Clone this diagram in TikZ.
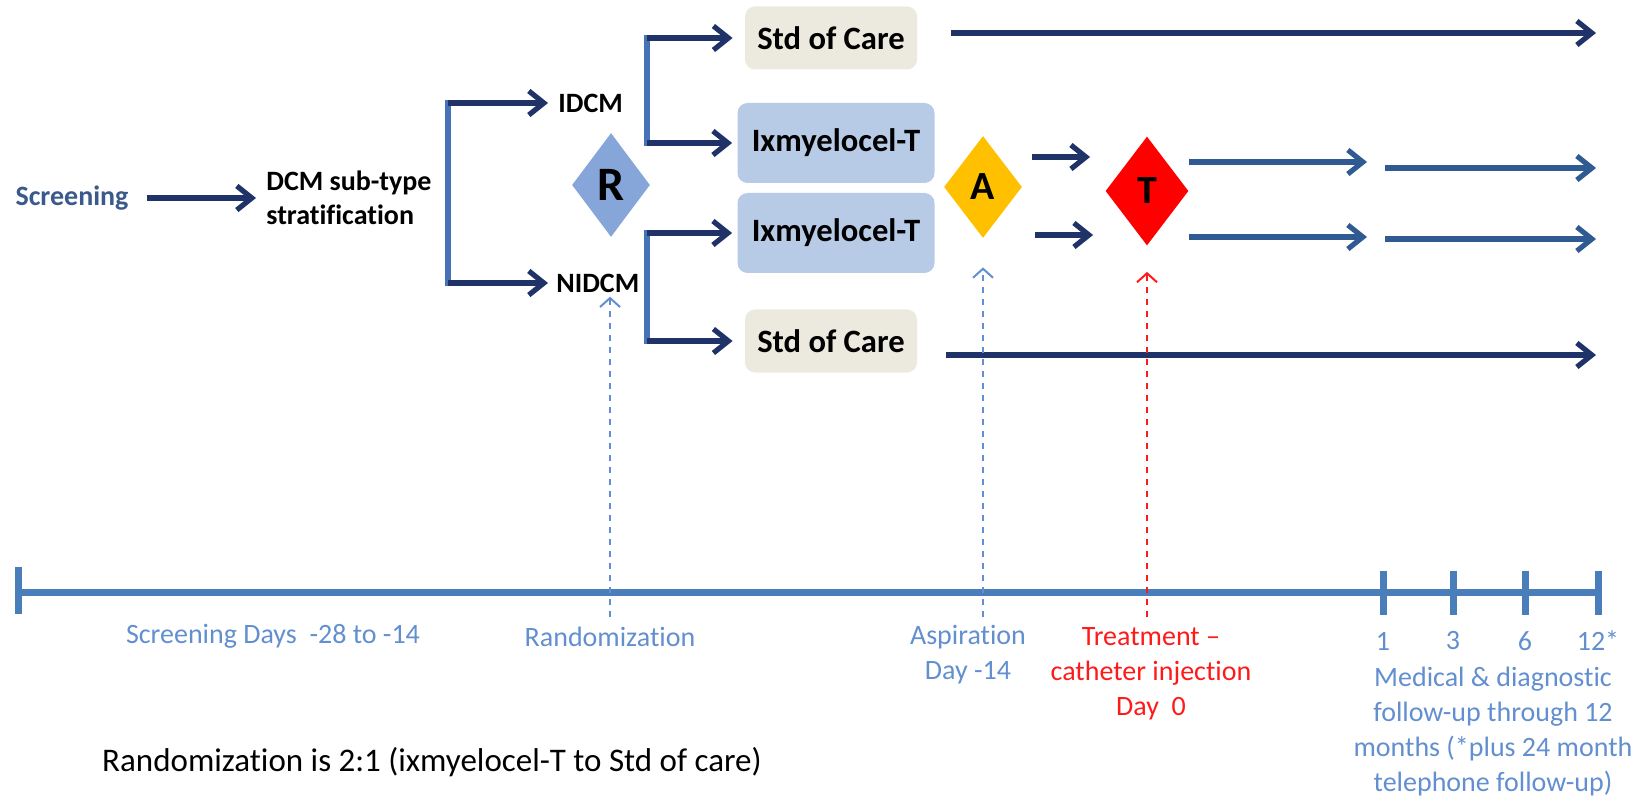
\documentclass[tikz,border=0pt]{standalone}
\usepackage{fontspec}
\setmainfont{Carlito}[Ligatures={NoCommon,NoRequired,NoContextual},RawFeature={-liga;-clig;-calt}]
\usetikzlibrary{arrows.meta,shapes.geometric}
\definecolor{navy}{HTML}{1F3368}
\definecolor{steel}{HTML}{2F5A92}
\definecolor{forkblue}{HTML}{4673B8}
\definecolor{tlblue}{HTML}{4A7EBB}
\definecolor{lblue}{HTML}{628FCF}
\definecolor{scrtext}{HTML}{3A5A8C}
\definecolor{tred}{HTML}{FF1A1A}
\definecolor{rfill}{HTML}{86A5D8}
\definecolor{ixfill}{HTML}{B7CAE6}
\definecolor{stdfill}{HTML}{ECEADF}
\definecolor{afill}{HTML}{FFC000}
\definecolor{tfill}{HTML}{FF0000}
\tikzstyle{toplabel}=[
        inner sep=0pt,
        font=\fontsize{14}{17}\selectfont\bfseries
]
\tikzstyle{armbox}=[
        rounded corners=5pt,
        inner sep=0pt,
        font=\fontsize{16.3}{19}\selectfont\bfseries
]
\tikzstyle{stdbox}=[armbox, fill=stdfill, minimum width=86pt, minimum height=31.5pt]
\tikzstyle{ixbox}=[armbox, fill=ixfill, minimum width=98.5pt, minimum height=40pt]
\tikzstyle{choice}=[diamond, inner sep=0pt]
\tikzstyle{flowarrow}=[
        draw=navy,
        line width=2.6pt,
        -{Straight Barb[length=7.5pt,width=12pt]}
]
\tikzstyle{steelarrow}=[flowarrow, draw=steel]
\tikzstyle{forkline}=[draw=forkblue, line width=2.6pt, line cap=rect]
\tikzstyle{timeaxis}=[draw=tlblue, line width=3.5pt]
\tikzstyle{dashptr}=[
        dashed,
        line width=1pt,
        -{Straight Barb[length=4.5pt,width=10pt]}
]
\tikzstyle{tllabel}=[
        inner sep=0pt,
        text=lblue,
        align=center,
        font=\fontsize{14}{17.5}\selectfont
]
\begin{document}
\begin{tikzpicture}[x=0.5pt,y=-0.5pt]
    \useasboundingbox (0,0) rectangle (1644,802);

    % flow chart
    \node[toplabel, text=scrtext] (screen) at (72,198) {Screening};
    \node[toplabel, align=left, anchor=west] (dcm) at (266,198) {DCM sub-type\\stratification};
    \node[toplabel, anchor=west] (idcm) at (558,103) {IDCM};
    \node[toplabel, anchor=west] (nidcm) at (556,283) {NIDCM};
    \node[choice, fill=rfill, minimum width=39pt, minimum height=52pt,
          font=\fontsize{24}{24}\selectfont\bfseries] (rand) at (611,185) {R};
    \node[stdbox] (std1) at (831,38) {Std of Care};
    \node[ixbox] (ix1) at (836,143) {Ixmyelocel-T};
    \node[ixbox] (ix2) at (836,233) {Ixmyelocel-T};
    \node[stdbox] (std2) at (831,341) {Std of Care};
    \node[choice, fill=afill, minimum width=39pt, minimum height=51pt,
          font=\fontsize{20}{20}\selectfont\bfseries] (asp) at (983,187) {A};
    \node[choice, fill=tfill, minimum width=41.5pt, minimum height=54.5pt,
          font=\fontsize{20}{20}\selectfont\bfseries] (treat) at (1147,191) {T};

    \draw[flowarrow] ([xshift=9pt]screen.east) -- ([xshift=-5pt]dcm.west);

    \coordinate (fork1) at (448,192);
    \coordinate (fork2) at (647,92);
    \coordinate (fork3) at (647,285);
    \draw[forkline] (fork1 |- idcm) -- (fork1 |- nidcm);
    \draw[flowarrow] (fork1 |- idcm) -- ([xshift=-5pt]idcm.west);
    \draw[flowarrow] (fork1 |- nidcm) -- ([xshift=-4pt]nidcm.west);
    \draw[forkline] (fork2 |- std1) -- (fork2 |- ix1);
    \draw[flowarrow] (fork2 |- std1) -- ([xshift=-6pt]std1.west);
    \draw[flowarrow] (fork2 |- ix1) -- ([xshift=-2.5pt]ix1.west);
    \draw[forkline] (fork3 |- ix2) -- (fork3 |- std2);
    \draw[flowarrow] (fork3 |- ix2) -- ([xshift=-2.5pt]ix2.west);
    \draw[flowarrow] (fork3 |- std2) -- ([xshift=-6pt]std2.west);

    \draw[flowarrow] ([xshift=5pt,yshift=15pt]asp.east) -- ([xshift=-7.5pt,yshift=17pt]treat.west);
    \draw[flowarrow] ([xshift=6.5pt,yshift=-24pt]asp.east) -- ([xshift=-6pt,yshift=-22pt]treat.west);

    \coordinate (end1) at (1596,33);
    \coordinate (mid1) at (1367,162);
    \coordinate (seg1) at (1385,168);
    \coordinate (end2) at (1596,168);
    \coordinate (mid2) at (1367,237);
    \coordinate (seg2) at (1385,239);
    \coordinate (end3) at (1596,239);
    \coordinate (end4) at (1596,355);
    \draw[flowarrow] ([xshift=17pt,yshift=2.5pt]std1.east) -- (end1);
    \draw[steelarrow] ([yshift=14.5pt]treat.east) -- (mid1);
    \draw[steelarrow] (seg1) -- (end2);
    \draw[steelarrow] ([yshift=-23pt]treat.east) -- (mid2);
    \draw[steelarrow] (seg2) -- (end3);
    \draw[flowarrow] ([xshift=14.5pt,yshift=-7pt]std2.east) -- (end4);

    % time line
    \coordinate (t0) at (18,592);
    \coordinate (t1) at (1598,592);
    \draw[timeaxis] (t0) -- (t1);
    \draw[timeaxis] (18,567) -- (18,614);
    \foreach \x/\lab [count=\i] in {1383/1,1453/3,1525/6,1598/12*} {
        \draw[timeaxis] (\x,571) -- (\x,615);
        \node[tllabel] (mon\i) at (\x,641) {\lab};
    }

    \coordinate (rmark) at (610,617);
    \coordinate (amark) at (983,617);
    \coordinate (tmark) at (1147,617);
    \draw[dashptr, draw=lblue, shorten >=2pt] (rmark) -- (rmark |- nidcm.south);
    \draw[dashptr, draw=lblue, shorten >=14.5pt] (amark) -- (asp.south);
    \draw[dashptr, draw=tred, shorten >=13pt] (tmark) -- (treat.south);

    \node[tllabel] (scrdays) at (273,636) {Screening Days~~-28 to -14};
    \node[tllabel] (randlbl) at (610,637) {Randomization};
    \node[tllabel] (asplbl) at (968,655) {Aspiration\\Day -14};
    \node[tllabel, text=tred] (treatlbl) at (1151,674) {Treatment –\\catheter injection\\Day~~0};
    \node[tllabel] (follow) at (1493,732) {Medical \& diagnostic\\follow-up through 12\\months (*plus 24 month\\telephone follow-up)};
    \node[inner sep=0pt, font=\fontsize{16.5}{20}\selectfont] (ratio) at (432,762)
        {Randomization is 2:1 (ixmyelocel-T to Std of care)};
\end{tikzpicture}
\end{document}
